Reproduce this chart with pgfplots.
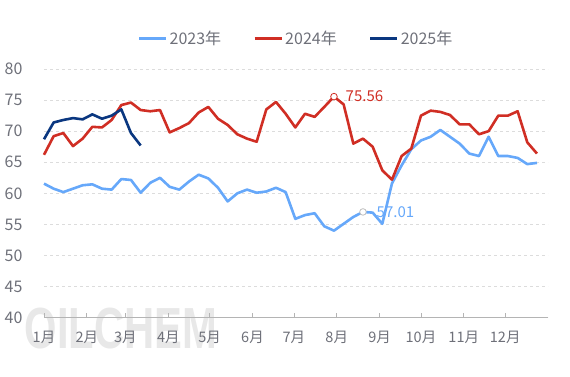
\documentclass[border=0pt]{standalone}
\usepackage{fontspec}
\setmainfont{Noto Sans CJK SC}
\newfontfamily\wmfont{Liberation Sans}
\usepackage{pgfplots}
\pgfplotsset{compat=1.18}
\definecolor{c23}{RGB}{102,168,250}
\definecolor{c24}{RGB}{208,46,36}
\definecolor{c25}{RGB}{10,55,128}
\definecolor{lbl}{RGB}{110,112,121}
\definecolor{gridc}{RGB}{220,220,220}
\definecolor{axc}{RGB}{180,180,180}
\begin{document}
\begin{tikzpicture}[x=1pt,y=1pt]
\path[use as bounding box] (0,0) rectangle (570,377);
\node[anchor=center, font=\wmfont\bfseries\fontsize{58}{58}\selectfont, text=gray!18, xscale=0.72] at (121,48) {OILCHEM};
\begin{axis}[
  at={(44pt,59.3pt)}, anchor=south west,
  scale only axis, width=504pt, height=248.7pt,
  xmin=0, xmax=365, ymin=40, ymax=80,
  xtick={0,31,59,90,120,151,181,212,243,273,304,334},
  xticklabels={1月,2月,3月,4月,5月,6月,7月,8月,9月,10月,11月,12月},
  ytick={40,45,50,55,60,65,70,75,80},
  /pgf/number format/assume math mode=true,
  tick label style={text=lbl},
  xticklabel style={yshift=-10pt, font=\fontsize{14.5}{15}\selectfont},
  yticklabel style={xshift=-18pt, font=\fontsize{16}{16}\selectfont},
  axis x line*=bottom, axis y line*=left,
  x axis line style={draw=axc, line width=1pt, -},
  y axis line style={draw=none},
  tick align=inside, major tick length=5pt,
  xtick style={draw=axc, line width=0.8pt},
  ytick style={draw=none},
  ymajorgrids, grid style={dashed, draw=gridc, line width=0.8pt},
  clip=false,
  legend columns=3,
  legend style={at={(0.5,1)}, anchor=center, yshift=30pt, draw=none, fill=none,
    font=\fontsize{16}{16}\selectfont, text=lbl,
    /tikz/every even column/.append style={column sep=30pt}},
  legend image code/.code={\draw[#1, line width=3pt] (0pt,0pt) -- (27pt,0pt);},
]
\addplot[c23, line width=2.6pt, line join=round] coordinates {
(0,61.56)(7,60.75)(14,60.2)(21,60.75)(28,61.3)(35,61.45)(42,60.75)(49,60.6)(56,62.3)(63,62.15)
(70,60.1)(77,61.7)(84,62.5)(91,61.05)(98,60.6)(105,61.9)(112,63.0)(119,62.4)(126,60.9)(133,58.7)
(140,60.0)(147,60.6)(154,60.1)(161,60.3)(168,60.9)(175,60.2)(182,55.9)(189,56.5)(196,56.8)(203,54.7)
(210,54.0)(217,55.1)(224,56.2)(231,57.01)(238,56.9)(245,55.1)(252,61.6)(259,64.5)(266,67.1)(273,68.5)
(280,69.1)(287,70.2)(294,69.1)(301,68.0)(308,66.4)(315,66.0)(322,69.1)(329,66.0)(336,66.0)(343,65.7)
(350,64.7)(357,64.9)};
\addlegendentry{2023年}
\addplot[c24, line width=2.6pt, line join=round] coordinates {
(0,66.2)(7,69.2)(14,69.7)(21,67.6)(28,68.8)(35,70.7)(42,70.6)(49,71.8)(56,74.2)(63,74.6)
(70,73.4)(77,73.2)(84,73.4)(91,69.8)(98,70.5)(105,71.3)(112,73.0)(119,73.9)(126,72.0)(133,71.0)
(140,69.5)(147,68.8)(154,68.3)(161,73.5)(168,74.7)(175,72.8)(182,70.6)(189,72.8)(196,72.3)(203,73.9)
(210,75.56)(217,74.3)(224,68.0)(231,68.8)(238,67.5)(245,63.7)(252,62.2)(259,66.0)(266,67.2)(273,72.5)
(280,73.3)(287,73.1)(294,72.6)(301,71.1)(308,71.1)(315,69.5)(322,70.0)(329,72.5)(336,72.5)(343,73.2)
(350,68.2)(357,66.4)};
\addlegendentry{2024年}
\addplot[c25, line width=2.6pt, line join=round] coordinates {
(0,68.7)(7,71.4)(14,71.8)(21,72.1)(28,71.9)(35,72.7)(42,72.0)(49,72.5)(56,73.5)(63,69.7)(70,67.7)};
\addlegendentry{2025年}
\addplot[only marks, mark=*, mark size=3.3pt, mark options={fill=white, draw=c24, line width=0.8pt},
  nodes near coords={75.56},
  every node near coord/.style={anchor=west, xshift=8pt, text=c24, font=\fontsize{15}{15}\selectfont}]
  coordinates {(210,75.56)};
\addplot[only marks, mark=*, mark size=3.3pt, mark options={fill=white, draw=gray!50, line width=0.8pt},
  nodes near coords={57.01},
  every node near coord/.style={anchor=west, xshift=10pt, text=c23, font=\fontsize{15}{15}\selectfont}]
  coordinates {(231,57.01)};
\end{axis}
\end{tikzpicture}
\end{document}
